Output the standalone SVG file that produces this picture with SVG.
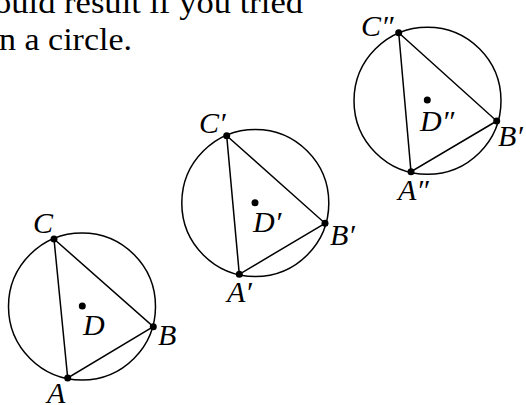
<svg xmlns="http://www.w3.org/2000/svg" width="526" height="405" viewBox="0 0 526 405">
<style>
.circ{fill:none;stroke:#000;stroke-width:1.5}
.edge{fill:none;stroke:#000;stroke-width:1.5}
.pt{fill:#000}
.lbl{font-family:"Liberation Serif","DejaVu Serif",serif;font-style:italic;font-size:30px;fill:#000}
.txt{font-family:"Liberation Serif","DejaVu Serif",serif;font-size:31px;fill:#000}
</style>
<rect width="526" height="405" fill="#fff"/>
<g id="caption">
<text class="txt" x="-6" y="13" textLength="309" lengthAdjust="spacingAndGlyphs">ould result if you tried</text>
<text class="txt" x="-1" y="50" textLength="133" lengthAdjust="spacingAndGlyphs">n a circle.</text>
</g>
<g id="circle1"><circle class="circ" cx="82" cy="306.5" r="73.5"/></g>
<g id="circle2"><circle class="circ" cx="255.3" cy="203" r="73.5"/></g>
<g id="circle3"><circle class="circ" cx="427.5" cy="100.8" r="73.5"/></g>
<g id="connectors">
<polygon class="edge" points="54,239 153.3,326.7 67.7,378"/>
<polygon class="edge" points="226.7,135.7 325,223.3 239.3,274.3"/>
<polygon class="edge" points="398.7,32.7 496.7,121 411,171.7"/>
</g>
<g id="A"><circle class="pt" cx="67.7" cy="378" r="3.5"/><text class="lbl" x="47" y="403">A</text></g>
<g id="B"><circle class="pt" cx="153.3" cy="326.7" r="3.5"/><text class="lbl" x="158" y="345">B</text></g>
<g id="C"><circle class="pt" cx="54" cy="239" r="3.5"/><text class="lbl" x="33" y="233">C</text></g>
<g id="D"><circle class="pt" cx="82.3" cy="306" r="3.5"/><text class="lbl" x="83" y="335">D</text></g>
<g id="A1"><circle class="pt" cx="239.3" cy="274.3" r="3.5"/><text class="lbl" x="227" y="302">A′</text></g>
<g id="B1"><circle class="pt" cx="325" cy="223.3" r="3.5"/><text class="lbl" x="330" y="245">B′</text></g>
<g id="C1"><circle class="pt" cx="226.7" cy="135.7" r="3.5"/><text class="lbl" x="199" y="133">C′</text></g>
<g id="D1"><circle class="pt" cx="255" cy="202.7" r="3.5"/><text class="lbl" x="253" y="232">D′</text></g>
<g id="A2"><circle class="pt" cx="411" cy="171.7" r="3.5"/><text class="lbl" x="398" y="200">A″</text></g>
<g id="B2"><circle class="pt" cx="496.7" cy="121" r="3.5"/><text class="lbl" x="498" y="146">B′</text></g>
<g id="C2"><circle class="pt" cx="398.7" cy="32.7" r="3.5"/><text class="lbl" x="361" y="36">C″</text></g>
<g id="D2"><circle class="pt" cx="427.3" cy="100" r="3.5"/><text class="lbl" x="420" y="131">D″</text></g>
</svg>
